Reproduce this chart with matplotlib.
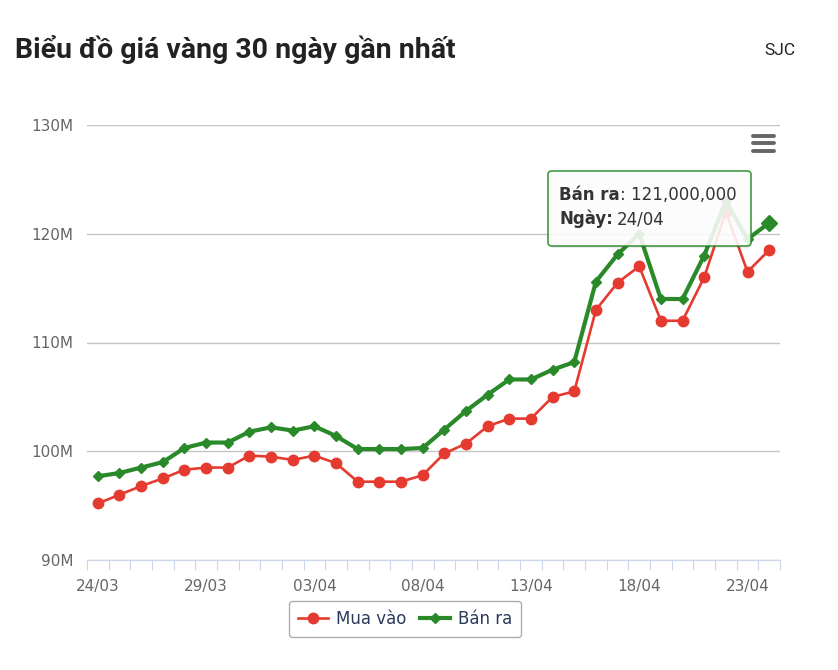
import matplotlib.pyplot as plt
from matplotlib.patches import FancyBboxPatch
from matplotlib.lines import Line2D

# ngay (24/03 -> 24/04)
days = ["24/03", "25/03", "26/03", "27/03", "28/03", "29/03", "30/03", "31/03",
        "01/04", "02/04", "03/04", "04/04", "05/04", "06/04", "07/04", "08/04",
        "09/04", "10/04", "11/04", "12/04", "13/04", "14/04", "15/04", "16/04",
        "17/04", "18/04", "19/04", "20/04", "21/04", "22/04", "23/04", "24/04"]

# gia, trieu dong
mua_vao = [95.2, 96.0, 96.8, 97.5, 98.3, 98.5, 98.5, 99.6, 99.5, 99.2, 99.6, 98.9,
           97.2, 97.2, 97.2, 97.8, 99.8, 100.7, 102.3, 103.0, 103.0, 105.0, 105.5,
           113.0, 115.5, 117.0, 112.0, 112.0, 116.0, 122.0, 116.5, 118.5]
ban_ra = [97.7, 98.0, 98.5, 99.0, 100.3, 100.8, 100.8, 101.8, 102.2, 101.9, 102.3, 101.4,
          100.2, 100.2, 100.2, 100.3, 102.0, 103.7, 105.2, 106.6, 106.6, 107.5, 108.2,
          115.6, 118.1, 120.0, 114.0, 114.0, 118.0, 123.0, 119.5, 121.0]

yticks = [90, 100, 110, 120, 130]

W, H = 838, 670
RED = "#e53a2f"
GREEN = "#2a8a2a"


def fx(x):
    return x / W


def fy(y):
    return 1 - y / H


fig = plt.figure(figsize=(W / 100, H / 100), dpi=100)
ax = fig.add_axes([fx(87), fy(560), fx(780) - fx(87), fy(125) - fy(560)])

xs = list(range(len(days)))
ax.plot(xs, mua_vao, color=RED, lw=1.9, marker="o", ms=7.5, zorder=3)
ax.plot(xs, ban_ra, color=GREEN, lw=3.0, marker="D", ms=5.5, zorder=4)
ax.plot(xs[-1], ban_ra[-1], color=GREEN, marker="D", ms=8.5, zorder=5)

ax.set_xlim(-0.5, len(days) - 0.5)
ax.set_ylim(90, 130)
ax.set_yticks(yticks)
ax.set_yticklabels([f"{v}M" for v in yticks])
ax.grid(axis="y", color="#c4c4c4", lw=1)
ax.set_axisbelow(True)

# vach chia giua cac ngay, nhan moi 5 ngay
ax.set_xticks([i - 0.5 for i in range(len(days) + 1)])
ax.set_xticklabels([])
for i in range(0, len(days), 5):
    ax.text(i, 87.6, days[i], ha="center", va="center", fontsize=11, color="#666666")

for s in ["top", "right", "left"]:
    ax.spines[s].set_visible(False)
ax.spines["bottom"].set_color("#ccd6eb")
ax.tick_params(axis="x", length=7, color="#ccd6eb")
ax.tick_params(axis="y", length=0, pad=10, labelsize=11, labelcolor="#666666")

# tieu de
fig.text(fx(15), fy(58), "Biểu đồ giá vàng 30 ngày gần nhất", fontsize=20.5,
         fontweight="bold", family="Roboto", color="#222222", va="baseline")
fig.text(fx(795), fy(55), "SJC", fontsize=12.5, family="Roboto", color="#222222",
         ha="right", va="baseline")

# menu icon
for yy in [135.5, 143, 150.5]:
    fig.add_artist(Line2D([fx(753), fx(774)], [fy(yy), fy(yy)], color="#666666",
                          lw=2.8, solid_capstyle="round"))

# tooltip
fig.add_artist(FancyBboxPatch((fx(550), fy(248)), fx(751) - fx(550), fy(171) - fy(246),
                              boxstyle="round,pad=0,rounding_size=0.005",
                              fc="#000000", ec="none", alpha=0.08, zorder=9))
fig.add_artist(FancyBboxPatch((fx(548), fy(246)), fx(751) - fx(548), fy(171) - fy(246),
                              boxstyle="round,pad=0,rounding_size=0.005",
                              fc="white", ec=GREEN, lw=1.2, alpha=0.88, zorder=10))
fig.canvas.draw()
r = fig.canvas.get_renderer()
t1 = fig.text(fx(559), fy(200), "Bán ra", fontsize=12, fontweight="bold",
              color="#333333", va="baseline", zorder=11)
w1 = t1.get_window_extent(r).width
fig.text(fx(559 + w1), fy(200), ": 121,000,000", fontsize=12, color="#333333",
         va="baseline", zorder=11)
t2 = fig.text(fx(559), fy(224), "Ngày:", fontsize=12, fontweight="bold",
              color="#333333", va="baseline", zorder=11)
w2 = t2.get_window_extent(r).width
fig.text(fx(559 + w2 + 4), fy(224), "24/04", fontsize=12, color="#333333",
         va="baseline", zorder=11)

# chu thich
h1 = Line2D([], [], color=RED, lw=1.9, marker="o", ms=7.5)
h2 = Line2D([], [], color=GREEN, lw=3.0, marker="D", ms=5.5)
leg = fig.legend([h1, h2], ["Mua vào", "Bán ra"], loc="center",
                 bbox_to_anchor=(fx(405), fy(619)), ncol=2, fontsize=12,
                 frameon=True, fancybox=True, edgecolor="#999999",
                 handlelength=1.8, columnspacing=0.8, handletextpad=0.5,
                 borderpad=0.55)
leg.get_frame().set_linewidth(1.0)
for t in leg.get_texts():
    t.set_color("#2b3a5c")

fig.savefig("out.png", dpi=100)
